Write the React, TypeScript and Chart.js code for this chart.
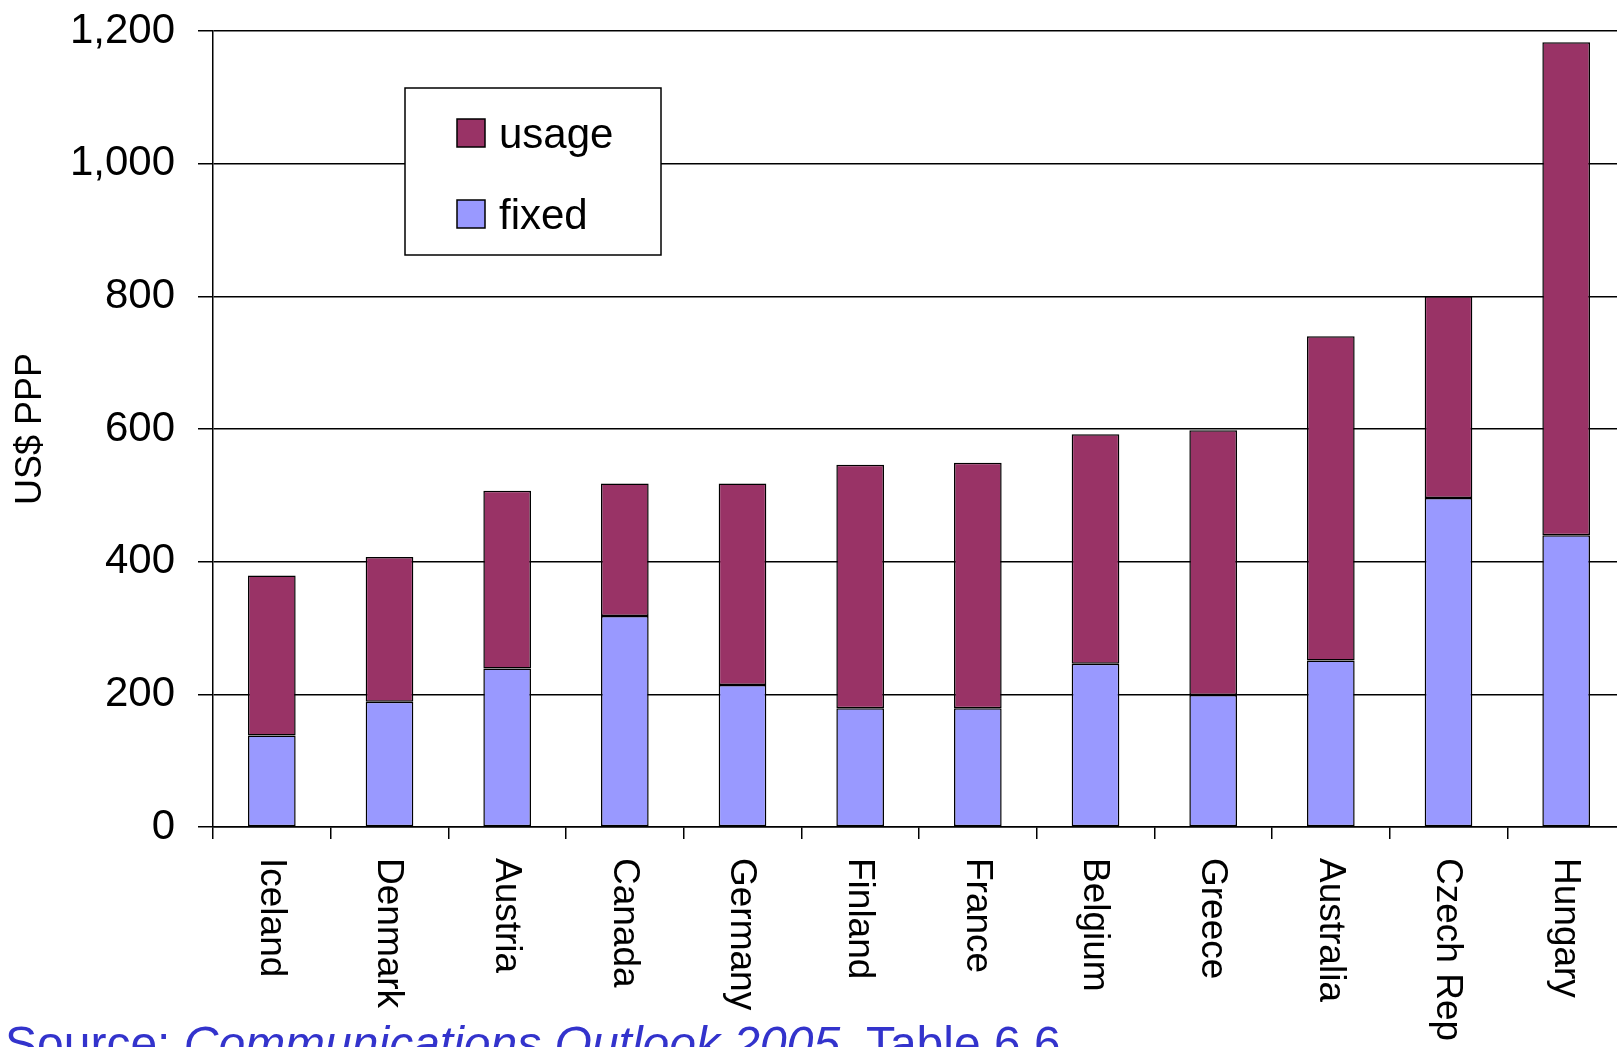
import React, { useEffect, useRef } from "react";
import { Chart, registerables } from "chart.js";

Chart.register(...registerables);

const categories = [
  "Iceland", "Denmark", "Austria", "Canada", "Germany", "Finland",
  "France", "Belgium", "Greece", "Australia", "Czech Rep", "Hungary",
];
const fixedValues = [138, 189, 239, 318, 214, 179, 179, 246, 199, 251, 496, 440];
const usageValues = [241, 218, 268, 200, 304, 367, 370, 346, 399, 489, 304, 743];
const yTickValues = [0, 200, 400, 600, 800, 1000, 1200];
const yAxisTitle = "US$ PPP";
const seriesNames = { fixed: "fixed", usage: "usage" };

const FONT = "'Liberation Sans', Arial, Helvetica, sans-serif";

const categoryLabelPlugin = {
  id: "categoryLabels",
  afterDraw(chart: any) {
    const ctx = chart.ctx;
    const xs = chart.scales.x;
    ctx.save();
    ctx.fillStyle = "#000";
    ctx.font = `37px ${FONT}`;
    ctx.textAlign = "left";
    ctx.textBaseline = "middle";
    const labels = chart.data.labels as string[];
    labels.forEach((lab, i) => {
      const x = xs.getPixelForTick(i);
      ctx.save();
      ctx.translate(x - 1, 858);
      ctx.rotate(Math.PI / 2);
      ctx.fillText(lab, 0, 0);
      ctx.restore();
    });
    ctx.restore();
  },
};

const legendPlugin = {
  id: "boxLegend",
  afterDraw(chart: any) {
    const ctx = chart.ctx;
    const ca = chart.chartArea;
    const bx = ca.left + 192;
    const by = ca.top + 57;
    const bw = 256;
    const bh = 167;
    ctx.save();
    ctx.fillStyle = "#fff";
    ctx.fillRect(bx, by, bw, bh);
    ctx.strokeStyle = "#000";
    ctx.lineWidth = 1.5;
    ctx.strokeRect(bx, by, bw, bh);
    const ds = [...chart.data.datasets].reverse();
    ds.forEach((d: any, i: number) => {
      const sy = by + 31 + i * 81;
      const sx = bx + 52;
      ctx.fillStyle = d.backgroundColor;
      ctx.fillRect(sx, sy, 28, 28);
      ctx.strokeStyle = "#000";
      ctx.lineWidth = 1.5;
      ctx.strokeRect(sx, sy, 28, 28);
      ctx.fillStyle = "#000";
      ctx.font = `42px ${FONT}`;
      ctx.textAlign = "left";
      ctx.textBaseline = "alphabetic";
      ctx.fillText(d.label, sx + 42, sy + 29);
    });
    ctx.restore();
  },
};

export default function App() {
  const ref = useRef<HTMLCanvasElement | null>(null);

  useEffect(() => {
    const canvas = ref.current;
    if (!canvas) return;
    const chart = new Chart(canvas, {
      type: "bar",
      data: {
        labels: categories,
        datasets: [
          {
            label: seriesNames.fixed,
            data: fixedValues,
            backgroundColor: "#9999FF",
            borderColor: "#000",
            borderWidth: 1.5,
            borderSkipped: false,
            barPercentage: 0.405,
            categoryPercentage: 1,
          },
          {
            label: seriesNames.usage,
            data: usageValues,
            backgroundColor: "#993366",
            borderColor: "#000",
            borderWidth: 1.5,
            borderSkipped: false,
            barPercentage: 0.405,
            categoryPercentage: 1,
          },
        ],
      },
      options: {
        responsive: false,
        animation: false,
        devicePixelRatio: 1,
        layout: { padding: { top: 31, left: 0, right: 0, bottom: 0 } },
        plugins: {
          legend: { display: false },
          tooltip: { enabled: false },
        },
        scales: {
          x: {
            stacked: true,
            offset: true,
            ticks: { display: false },
            grid: {
              display: true,
              offset: true,
              drawOnChartArea: false,
              drawTicks: true,
              tickLength: 12,
              color: "#000",
              lineWidth: 1.5,
            },
            border: { display: true, color: "#000", width: 1.5 },
            afterFit: (s: any) => {
              s.height = 220;
              s.paddingLeft = 0;
              s.paddingRight = 0;
            },
          },
          y: {
            stacked: true,
            min: 0,
            max: 1200,
            afterBuildTicks: (s: any) => {
              s.ticks = yTickValues.map((v) => ({ value: v }));
            },
            ticks: {
              color: "#000",
              font: { family: FONT, size: 42 },
              padding: 23,
              callback: (v: any) => Number(v).toLocaleString("en-US"),
            },
            grid: {
              color: "#000",
              lineWidth: 1.5,
              tickLength: 15,
              drawTicks: true,
            },
            border: { display: true, color: "#000", width: 1.5 },
            title: {
              display: true,
              text: yAxisTitle,
              color: "#000",
              font: { family: FONT, size: 36 },
              padding: { top: 9, bottom: 0 },
            },
            afterFit: (s: any) => {
              s.width = 213;
              s.paddingTop = 0;
              s.paddingBottom = 0;
            },
          },
        },
      },
      plugins: [legendPlugin, categoryLabelPlugin],
    });
    return () => chart.destroy();
  }, []);

  return (
    <div
      style={{
        position: "fixed",
        left: 0,
        top: 0,
        width: 1617,
        height: 1047,
        overflow: "hidden",
        background: "#fff",
      }}
    >
      <canvas
        ref={ref}
        width={1625}
        height={1047}
        style={{ position: "absolute", left: 0, top: 0, width: 1625, height: 1047 }}
      />
      <div
        style={{
          position: "absolute",
          left: 5,
          top: 1020,
          fontFamily: FONT,
          fontSize: 48,
          lineHeight: 1,
          color: "#3333CC",
          whiteSpace: "nowrap",
        }}
      >
        Source: <i>Communications Outlook 2005</i>, Table 6.6
      </div>
    </div>
  );
}
